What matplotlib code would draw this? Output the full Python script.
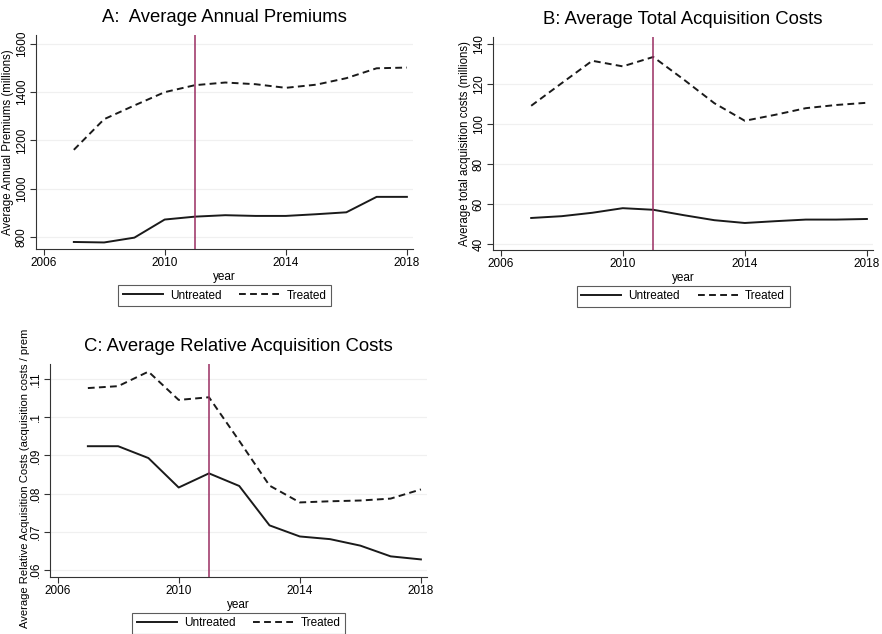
import matplotlib
matplotlib.use("Agg")
import matplotlib.pyplot as plt
from matplotlib.transforms import Bbox, TransformedBbox

plt.rcParams["font.family"] = ["Liberation Sans", "DejaVu Sans"]

years = list(range(2007, 2019))

# A: average annual premiums (millions)
prem_untreated = [779, 777, 797, 872, 884, 890, 887, 887, 894, 902, 966, 966]
prem_treated = [1161, 1288, 1345, 1400, 1429, 1440, 1433, 1418, 1431, 1458, 1499, 1502]

# B: average total acquisition costs (millions)
acq_untreated = [53.0, 53.9, 55.6, 57.9, 57.1, 54.4, 51.9, 50.5, 51.4, 52.2, 52.2, 52.5]
acq_treated = [109.1, 120.4, 131.6, 128.8, 133.5, 122.2, 110.4, 101.6, 104.6, 107.9, 109.5, 110.6]

# C: acquisition costs / premiums
rel_untreated = [.0924, .0924, .0893, .0816, .0853, .0820, .0717, .0688, .0681, .0664, .0636, .0628]
rel_treated = [.1076, .1081, .1119, .1045, .1052, .0938, .0821, .0777, .0780, .0782, .0787, .0811]

x_ticks = [2006, 2010, 2014, 2018]
treat_year = 2011

panels = [
    dict(pos=[0.0408, 0.6073, 0.4274, 0.3375], title="A:  Average Annual Premiums",
         ylabel="Average Annual Premiums (millions)",
         u=prem_untreated, t=prem_treated, ylim=(750, 1637),
         yticks=[800, 1000, 1200, 1400, 1600], ylabels=["800", "1000", "1200", "1400", "1600"]),
    dict(pos=[0.559, 0.6057, 0.4308, 0.336], title="B: Average Total Acquisition Costs",
         ylabel="Average total acquisition costs (millions)",
         u=acq_untreated, t=acq_treated, ylim=(37, 143.5),
         yticks=[40, 60, 80, 100, 120, 140], ylabels=["40", "60", "80", "100", "120", "140"]),
    dict(pos=[0.0567, 0.0899, 0.4274, 0.336], title="C: Average Relative Acquisition Costs",
         ylabel=None,
         u=rel_untreated, t=rel_treated, ylim=(.0582, .1139),
         yticks=[.06, .07, .08, .09, .1, .11], ylabels=[".06", ".07", ".08", ".09", ".1", ".11"]),
]

fig = plt.figure(figsize=(8.82, 6.34), dpi=100)

for p in panels:
    ax = fig.add_axes(p["pos"])
    ax.plot(years, p["u"], color="#1a1a1a", lw=1.4, label="Untreated")
    ax.plot(years, p["t"], color="#1a1a1a", lw=1.4, ls=(0, (3.5, 2.2)), label="Treated")
    ax.axvline(treat_year, color="#9a2d62", lw=1.1)
    ax.set_xlim(2005.75, 2018.2)
    ax.set_ylim(*p["ylim"])
    ax.set_xticks(x_ticks)
    ax.set_yticks(p["yticks"])
    ax.set_yticklabels(p["ylabels"], rotation=90, va="center")
    ax.tick_params(labelsize=8.5, length=4, width=0.8, color="#333333", pad=2)
    ax.grid(axis="y", color="#f0f0f0", lw=0.9)
    ax.set_axisbelow(True)
    for s in ["top", "right"]:
        ax.spines[s].set_visible(False)
    for s in ["left", "bottom"]:
        ax.spines[s].set_linewidth(0.8)
        ax.spines[s].set_color("#333333")
    ax.set_xlabel("year", fontsize=8.5, labelpad=1)
    if p["ylabel"]:
        ax.set_ylabel(p["ylabel"], fontsize=8.3, labelpad=1)
    ax.set_title(p["title"], fontsize=13.3, pad=9)
    leg = ax.legend(loc="upper center", bbox_to_anchor=(0.5, -0.14), ncol=2, fontsize=8.5,
                    frameon=True, fancybox=False, handlelength=3.4, columnspacing=1.5,
                    borderpad=0.4, handletextpad=0.6)
    leg.get_frame().set_edgecolor("#333333")
    leg.get_frame().set_linewidth(0.8)

# long y label of panel C runs off the top of its region
lab = fig.text(0.028, 0.01, "Average Relative Acquisition Costs (acquisition costs / premiums)",
               rotation=90, fontsize=8.1, ha="center", va="bottom")
lab.set_clip_box(TransformedBbox(Bbox([[0, 0], [1, 1 - 330 / 634]]), fig.transFigure))
lab.set_clip_on(True)

fig.savefig("out.png", dpi=100)
